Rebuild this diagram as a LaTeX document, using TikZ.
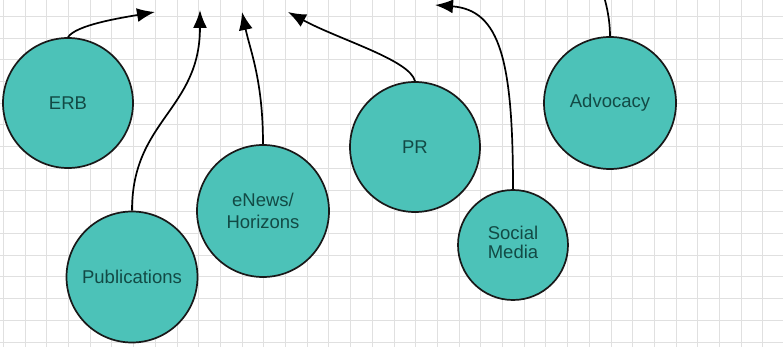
\documentclass[tikz,border=0pt]{standalone}
\usepackage{fontspec}
\setmainfont{Liberation Sans}
\usepackage{tikz}
\usetikzlibrary{arrows.meta}
\definecolor{bubble}{HTML}{4CC2B8}
\definecolor{bubbletext}{HTML}{124A45}
\definecolor{gridline}{HTML}{E0E0E0}
\tikzset{
  topic/.style={circle,draw=black!90,line width=1.7pt,fill=bubble,text=bubbletext,
    inner sep=0pt,align=center,font=\fontsize{18.5}{22}\selectfont},
  feed/.style={line width=1.7pt,-{Latex[length=18pt,width=14pt]}}
}
\begin{document}
\begin{tikzpicture}[x=1pt,y=-1pt]
      \useasboundingbox (0,0) rectangle (783,347);
      \clip (0,0) rectangle (783,347);
      \fill[white] (0,0) rectangle (783,347);
      % grid
      \foreach \i in {0,...,36} {
        \draw[gridline,line width=0.8pt] (3.3+21.7*\i,0) -- (3.3+21.7*\i,347);
      }
      \foreach \j in {0,...,15} {
        \draw[gridline,line width=0.8pt] (0,16.4+21.7*\j) -- (783,16.4+21.7*\j);
      }
      % topics
      \node[topic,minimum size=130pt] (erb) at (68,103) {ERB};
      \node[topic,minimum size=131pt] (pubs) at (132,277) {Publications};
      \node[topic,minimum size=132pt] (enews) at (263,211) {eNews/\\Horizons};
      \node[topic,minimum size=130pt] (pr) at (415,147) {PR};
      \node[topic,minimum size=132pt] (advo) at (610,103) {Advocacy};
      \node[topic,minimum size=110pt] (social) at (513,245) {\raisebox{4pt}{\begin{tabular}{@{}c@{}}Social\\[-3pt]Media\end{tabular}}};
      % arrow ends
      \coordinate (erbend) at (155,12);
      \coordinate (pubsend) at (200,10);
      \coordinate (enewsend) at (242,12);
      \coordinate (prend) at (288,12);
      \coordinate (socialend) at (435,5);
      \coordinate (advoend) at (594,-30);
      % arrows
      \draw[feed] (erb.north) .. controls (76,25) and (120,18) .. (erbend);
      \draw[feed] (pubs.north) .. controls (132,120) and (200,110) .. (pubsend);
      \draw[feed] (enews.north) .. controls (263,80) and (250,50) .. (enewsend);
      \draw[feed] (pr.north) .. controls (410,60) and (340,40) .. (prend);
      \draw[feed] (social.north) .. controls (513,60) and (500,10) .. (socialend);
      \draw[feed] (advo.north) .. controls (610,15) and (604,-5) .. (advoend);
    \end{tikzpicture}
\end{document}
